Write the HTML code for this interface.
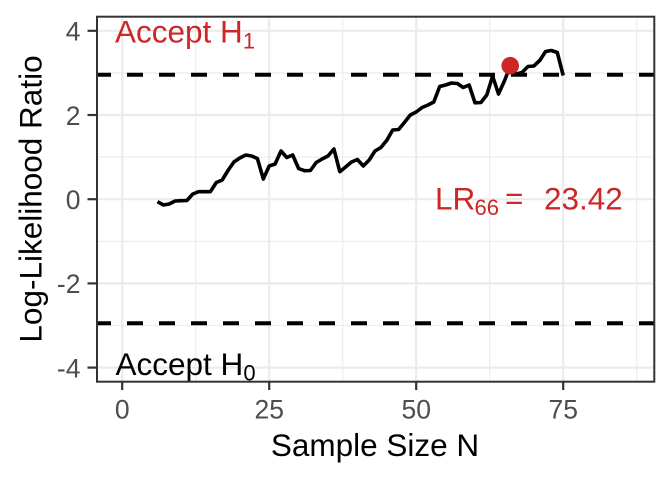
<!DOCTYPE html>
<html>
<head>
<meta charset="utf-8">
<style>
html,body{margin:0;padding:0;background:#fff;}
svg{display:block;}
text{font-family:"Liberation Sans",Arial,sans-serif;}
</style>
</head>
<body>
<svg width="672" height="480" viewBox="0 0 672 480" xmlns="http://www.w3.org/2000/svg">
<rect x="0" y="0" width="672" height="480" fill="#fff"/>
<defs>
<clipPath id="pc"><rect x="96" y="16.7" width="558.3" height="365"/></clipPath>
</defs>
<g clip-path="url(#pc)">
<!-- minor grid -->
<g stroke="#EBEBEB" stroke-width="1.1">
<line x1="195.7" y1="16" x2="195.7" y2="382"/>
<line x1="342.7" y1="16" x2="342.7" y2="382"/>
<line x1="489.7" y1="16" x2="489.7" y2="382"/>
<line x1="636.7" y1="16" x2="636.7" y2="382"/>
<line x1="96" y1="72.9" x2="655" y2="72.9"/>
<line x1="96" y1="157.1" x2="655" y2="157.1"/>
<line x1="96" y1="241.3" x2="655" y2="241.3"/>
<line x1="96" y1="325.5" x2="655" y2="325.5"/>
</g>
<!-- major grid -->
<g stroke="#EBEBEB" stroke-width="2.2">
<line x1="122.2" y1="16" x2="122.2" y2="382"/>
<line x1="269.2" y1="16" x2="269.2" y2="382"/>
<line x1="416.2" y1="16" x2="416.2" y2="382"/>
<line x1="563.2" y1="16" x2="563.2" y2="382"/>
<line x1="96" y1="30.8" x2="655" y2="30.8"/>
<line x1="96" y1="115" x2="655" y2="115"/>
<line x1="96" y1="199.2" x2="655" y2="199.2"/>
<line x1="96" y1="283.4" x2="655" y2="283.4"/>
<line x1="96" y1="367.6" x2="655" y2="367.6"/>
</g>
<!-- threshold lines -->
<g stroke="#000" stroke-width="4" stroke-dasharray="16 16">
<line x1="95" y1="74.8" x2="660" y2="74.8"/>
<line x1="95" y1="323.2" x2="660" y2="323.2"/>
</g>
<!-- LLR path -->
<polyline fill="none" stroke="#000" stroke-width="3.6" stroke-linejoin="round" points="157.5,201.7 163.4,205 169.2,204 175.1,201 181,200.7 186.9,200.5 192.8,194 198.6,191.7 204.5,191.7 210.4,191.7 216.3,182.5 222.2,180 228,170.5 233.9,162 239.8,158 245.7,155 251.6,156 257.4,158.5 263.3,179 269.2,166 275.1,164 281,151 286.8,157.5 292.7,155 298.6,168.5 304.5,170.7 310.4,170.5 316.2,162.5 322.1,159 328,156 333.9,149 339.8,171.7 345.6,167 351.5,162 357.4,159.5 363.3,166 369.2,160 375,151 380.9,147.5 386.8,140.3 392.7,130 398.6,129.5 404.4,122.5 410.3,115 416.2,112 422.1,107.5 428,105 433.8,102 439.7,86.5 445.6,85 451.5,83 457.4,83.5 463.2,87.5 469.1,85 475,102.8 480.9,102.5 486.8,95 492.6,76 498.5,94 504.4,81 510.3,66 516.2,74 522,72.5 527.9,66.5 533.8,66 539.7,60.5 545.6,51.5 551.4,50.5 557.3,52.5 563.2,75.5"/>
<circle cx="510.2" cy="65.7" r="8.8" fill="#CD2626"/>
</g>
<!-- annotations -->
<text x="115" y="42.7" font-size="31.5" fill="#CD2626">Accept H<tspan font-size="22" dy="5.6">1</tspan></text>
<text x="115.5" y="375" font-size="31.5" fill="#000">Accept H<tspan font-size="22" dy="5.6">0</tspan></text>
<text x="435" y="209.3" font-size="31.5" fill="#CD2626">LR</text>
<text x="474.5" y="215" font-size="22" fill="#CD2626">66</text>
<text x="505" y="209.3" font-size="31.5" fill="#CD2626">=</text>
<text x="544" y="209.3" font-size="31.5" fill="#CD2626">23.42</text>
<!-- panel border -->
<rect x="97" y="16.7" width="557.3" height="365" fill="none" stroke="#333" stroke-width="2"/>
<!-- ticks -->
<g stroke="#333" stroke-width="2.2">
<line x1="87.5" y1="30.8" x2="96" y2="30.8"/>
<line x1="87.5" y1="115" x2="96" y2="115"/>
<line x1="87.5" y1="199.2" x2="96" y2="199.2"/>
<line x1="87.5" y1="283.4" x2="96" y2="283.4"/>
<line x1="87.5" y1="367.6" x2="96" y2="367.6"/>
<line x1="122.2" y1="382" x2="122.2" y2="390"/>
<line x1="269.2" y1="382" x2="269.2" y2="390"/>
<line x1="416.2" y1="382" x2="416.2" y2="390"/>
<line x1="563.2" y1="382" x2="563.2" y2="390"/>
</g>
<!-- tick labels -->
<g font-size="26.5" fill="#4D4D4D" text-anchor="end">
<text x="80.5" y="40.6">4</text>
<text x="80.5" y="124.8">2</text>
<text x="80.5" y="209">0</text>
<text x="80.5" y="293.2">-2</text>
<text x="80.5" y="377.4">-4</text>
</g>
<g font-size="26.5" fill="#4D4D4D" text-anchor="middle">
<text x="122.2" y="418.5">0</text>
<text x="269.2" y="418.5">25</text>
<text x="416.2" y="418.5">50</text>
<text x="563.2" y="418.5">75</text>
</g>
<!-- axis titles -->
<text x="375" y="456" font-size="31.5" fill="#000" text-anchor="middle">Sample Size N</text>
<text transform="translate(41.7,199) rotate(-90)" font-size="31.5" fill="#000" text-anchor="middle">Log-Likelihood Ratio</text>
</svg>
</body>
</html>
